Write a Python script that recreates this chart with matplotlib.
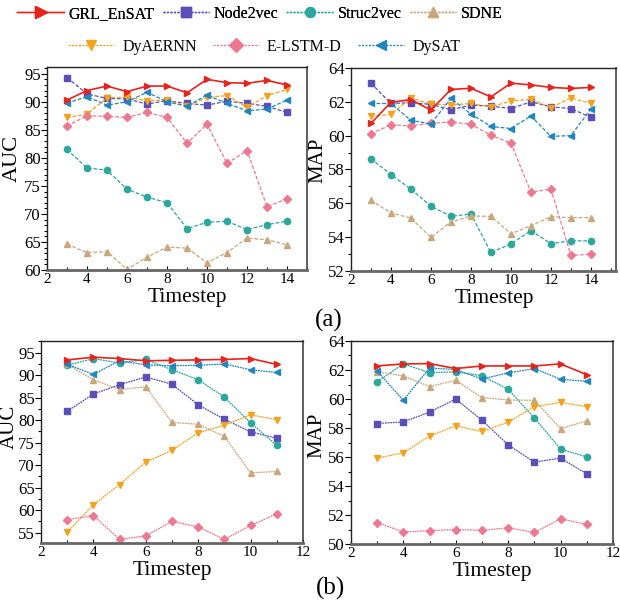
import matplotlib
matplotlib.use("Agg")
import matplotlib.pyplot as plt
from matplotlib.lines import Line2D
from matplotlib.ticker import MultipleLocator

plt.rcParams["font.family"] = ["Liberation Serif", "DejaVu Serif"]

methods = ["GRL_EnSAT", "Node2vec", "Struc2vec", "SDNE", "DyAERNN", "E-LSTM-D", "DySAT"]
colors = ["#e8231c", "#5a4fb8", "#2aa89c", "#c9a67c", "#f5a11c", "#ee7890", "#1f86c0"]
markers = [">", "s", "o", "^", "v", "D", "<"]

steps_a = [3, 4, 5, 6, 7, 8, 9, 10, 11, 12, 13, 14]
steps_b = [3, 4, 5, 6, 7, 8, 9, 10, 11]

# (a) AUC
auc_a = {
    "GRL_EnSAT": [90.3, 92.0, 92.8, 91.8, 92.8, 92.8, 91.6, 94.0, 93.4, 93.3, 93.8, 93.0],
    "Node2vec":  [94.3, 91.4, 90.6, 90.5, 89.6, 90.2, 89.7, 89.4, 90.1, 89.7, 89.2, 88.1],
    "Struc2vec": [81.5, 78.2, 77.8, 74.4, 73.0, 72.0, 67.4, 68.5, 68.7, 67.2, 68.1, 68.7],
    "SDNE":      [64.6, 63.1, 63.3, 60.1, 62.3, 64.1, 63.9, 61.3, 63.1, 65.7, 65.4, 64.5],
    "DyAERNN":   [87.2, 87.8, 90.7, 90.8, 90.2, 90.3, 89.2, 90.8, 91.1, 89.0, 91.1, 92.2],
    "E-LSTM-D":  [85.7, 87.5, 87.4, 87.2, 88.1, 87.2, 82.6, 86.0, 79.0, 81.3, 71.3, 72.7],
    "DySAT":     [89.8, 90.9, 89.4, 90.0, 91.7, 90.0, 89.2, 91.2, 89.7, 88.4, 88.7, 90.3],
}
# (a) MAP
map_a = {
    "GRL_EnSAT": [60.72, 61.97, 62.13, 61.51, 62.73, 62.80, 62.29, 63.10, 63.00, 62.85, 62.79, 62.85],
    "Node2vec":  [63.10, 61.90, 61.95, 61.85, 61.53, 61.80, 61.75, 61.60, 62.00, 61.70, 61.60, 61.08],
    "Struc2vec": [58.63, 57.70, 56.84, 55.83, 55.23, 55.37, 53.10, 53.60, 54.38, 53.62, 53.78, 53.78],
    "SDNE":      [56.17, 55.43, 55.13, 53.98, 54.90, 55.25, 55.23, 54.20, 54.68, 55.21, 55.15, 55.15],
    "DyAERNN":   [61.15, 61.25, 62.23, 61.87, 61.81, 61.90, 61.70, 62.05, 62.15, 61.65, 62.23, 61.90],
    "E-LSTM-D":  [60.12, 60.64, 60.58, 60.74, 60.80, 60.68, 60.02, 59.56, 56.66, 56.84, 52.92, 53.00],
    "DySAT":     [61.90, 61.90, 60.90, 60.70, 62.20, 61.28, 60.54, 60.42, 61.16, 59.96, 60.00, 61.58],
}
# (b) AUC
auc_b = {
    "GRL_EnSAT": [93.4, 94.0, 93.7, 93.2, 93.3, 93.4, 93.5, 93.7, 92.4],
    "Node2vec":  [82.0, 85.8, 87.9, 89.6, 88.0, 83.4, 80.2, 77.4, 76.0],
    "Struc2vec": [92.2, 93.7, 92.7, 93.5, 91.2, 89.0, 85.1, 79.4, 74.4],
    "SDNE":      [92.4, 89.0, 86.8, 87.4, 79.5, 79.1, 76.4, 68.3, 68.6],
    "DyAERNN":   [55.1, 61.2, 65.7, 70.7, 73.3, 77.2, 78.9, 81.2, 80.1],
    "E-LSTM-D":  [57.9, 58.8, 53.5, 54.3, 57.5, 56.3, 53.5, 56.6, 59.2],
    "DySAT":     [92.4, 90.2, 93.2, 92.3, 92.1, 92.2, 92.5, 91.2, 90.6],
}
# (b) MAP
map_b = {
    "GRL_EnSAT": [62.28, 62.42, 62.44, 62.10, 62.28, 62.28, 62.28, 62.42, 61.68],
    "Node2vec":  [58.31, 58.42, 59.09, 60.00, 58.54, 56.84, 55.65, 55.92, 54.84],
    "Struc2vec": [61.18, 62.42, 61.82, 61.87, 61.61, 60.67, 58.70, 56.54, 56.01],
    "SDNE":      [61.89, 61.59, 60.86, 61.28, 60.10, 59.93, 59.91, 57.96, 58.49],
    "DyAERNN":   [55.92, 56.29, 57.44, 58.15, 57.76, 58.40, 59.47, 59.77, 59.47],
    "E-LSTM-D":  [51.47, 50.83, 50.92, 51.00, 50.94, 51.12, 50.80, 51.74, 51.35],
    "DySAT":     [61.93, 59.91, 62.14, 62.03, 61.38, 61.80, 62.10, 61.36, 61.22],
}

W, H = 620, 603
fig = plt.figure(figsize=(W / 100, H / 100), dpi=100)


def draw(rect, steps, data, ylabel, ylab_xy, xlab_x, xlim, ylim, ymajor, yminor, dash, ylab_size):
    ax = fig.add_axes(rect)
    for i, m in enumerate(methods):
        if m == "GRL_EnSAT":
            ls, lw = "-", 1.2
        else:
            ls, lw = dash, 0.9
        ms = 4.0 if markers[i] == "D" else 4.5
        ax.plot(steps, data[m], color=colors[i], linestyle=ls, linewidth=lw,
                marker=markers[i], markersize=ms, zorder=3 if i == 0 else 2)
    ax.set_xlim(*xlim)
    ax.set_ylim(*ylim)
    ax.xaxis.set_major_locator(MultipleLocator(2))
    ax.xaxis.set_minor_locator(MultipleLocator(1))
    ax.yaxis.set_major_locator(MultipleLocator(ymajor))
    ax.yaxis.set_minor_locator(MultipleLocator(yminor))
    ax.tick_params(axis="y", which="major", direction="out", length=4, width=0.8, labelsize=12, pad=0.5)
    ax.tick_params(axis="y", which="minor", direction="out", length=2, width=0.8)
    ax.tick_params(axis="x", which="major", direction="in", length=3, width=0.8, labelsize=11, pad=2)
    ax.tick_params(axis="x", which="minor", direction="in", length=2, width=0.8)
    ax.set_xlabel("Timestep", fontsize=15.5, labelpad=0)
    ax.xaxis.set_label_coords(xlab_x, -0.09)
    # y label placed in figure pixels as in the reference
    fig.text(ylab_xy[0] / W, 1 - ylab_xy[1] / H, ylabel, fontsize=ylab_size,
             rotation=90, ha="center", va="center")
    for s in ["left", "top"]:
        ax.spines[s].set_color("#222222")
        ax.spines[s].set_linewidth(1.0)
    ax.spines["right"].set_color("#444444")
    ax.spines["right"].set_linewidth(1.2)
    ax.spines["bottom"].set_color("#666666")
    ax.spines["bottom"].set_linewidth(2.0)
    return ax


dash_a = (0, (3, 1.5))
dash_b = (0, (1.5, 0.6))

draw([0.0758, 0.5522, 0.4194, 0.3367], steps_a, auc_a, "AUC", (12, 158), 0.54, (2, 15), (60, 96.2), 5, 1, dash_a, 16)
draw([0.566, 0.5506, 0.4274, 0.3367], steps_a, map_a, "MAP", (318, 160), 0.54, (2, 15.25), (52, 64), 2, 1, dash_a, 15)
draw([0.0661, 0.0995, 0.4226, 0.335], steps_b, auc_b, "AUC", (9, 427), 0.5, (2, 12), (52.7, 97.6), 5, 2.5, dash_b, 15)
draw([0.566, 0.0978, 0.4226, 0.3367], steps_b, map_b, "MAP", (317, 435), 0.54, (2, 12), (50, 64), 2, 1, dash_b, 15)

fig.text(329 / W, 1 - 320 / H, "(a)", fontsize=18, ha="center", va="center")
fig.text(331 / W, 1 - 588 / H, "(b)", fontsize=18, ha="center", va="center")

handles = []
for i, m in enumerate(methods):
    ls = "-" if i == 0 else (0, (1.5, 1.0))
    handles.append(Line2D([], [], color=colors[i], linestyle=ls, linewidth=1.0,
                          marker=markers[i], markersize=7 if i else 8))

leg1 = fig.legend(handles[:4], methods[:4], loc="center", bbox_to_anchor=(260 / W, 1 - 14 / H),
                  ncol=4, frameon=False, fontsize=11.5, handlelength=2.9, handletextpad=0.3,
                  columnspacing=0.5, borderaxespad=0, borderpad=0)
fig.add_artist(leg1)
fig.legend(handles[4:], methods[4:], loc="center", bbox_to_anchor=(264 / W, 1 - 47 / H),
           ncol=3, frameon=False, fontsize=11.5, handlelength=2.9, handletextpad=0.5,
           columnspacing=1.0, borderaxespad=0, borderpad=0)

fig.savefig("out.png", dpi=100)
